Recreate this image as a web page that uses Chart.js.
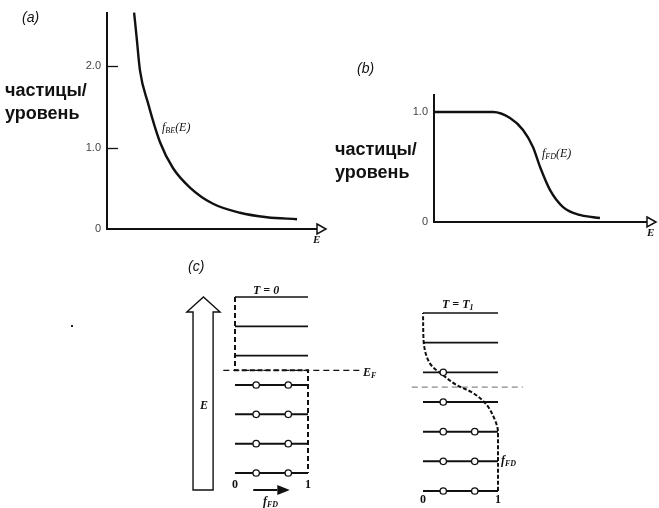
<!DOCTYPE html>
<html>
<head>
<meta charset="utf-8">
<script src="https://cdn.jsdelivr.net/npm/chart.js@4.4.1/dist/chart.umd.min.js"></script>
<style>
body { margin: 0; background: #fff; width: 659px; height: 508px; position: relative; overflow: hidden; font-family: "Liberation Sans", Arial, sans-serif; }
canvas { position: absolute; }
.t { position: absolute; white-space: nowrap; color: #111; }
.ylab { font-weight: bold; font-size: 18px; line-height: 23px; }
.pan { font-style: italic; font-size: 14px; }
.m { font-family: "Liberation Serif", serif; font-style: italic; font-size: 12px; }
.b { font-weight: bold; }
sub { font-size: 8px; vertical-align: -2px; }
</style>
</head>
<body>
<canvas id="ca" width="340" height="250" style="left:0;top:0"></canvas>
<canvas id="cb" width="329" height="190" style="left:330px;top:60px"></canvas>
<canvas id="cc0" width="200" height="253" style="left:170px;top:255px"></canvas>
<canvas id="cc1" width="180" height="253" style="left:380px;top:255px"></canvas>

<div class="t pan" style="left:22px;top:9px">(a)</div>
<div class="t ylab" style="left:5px;top:79px">частицы/<br>уровень</div>
<div class="t m" style="left:162px;top:120px">f<sub>BE</sub>(E)</div>
<div class="t m b" style="left:313px;top:233px;font-size:11px">E</div>

<div class="t pan" style="left:357px;top:60px">(b)</div>
<div class="t ylab" style="left:335px;top:138px">частицы/<br>уровень</div>
<div class="t m" style="left:542px;top:146px">f<sub>FD</sub>(E)</div>
<div class="t m b" style="left:647px;top:226px;font-size:11px">E</div>

<div class="t pan" style="left:188px;top:258px">(c)</div>
<div class="t m b" style="left:253px;top:283px">T = 0</div>
<div class="t m b" style="left:200px;top:398px">E</div>
<div class="t m b" style="left:363px;top:365px">E<sub>F</sub></div>
<div class="t m b" style="left:263px;top:494px">f<sub>FD</sub></div>
<div class="t m b" style="left:442px;top:297px">T = T<sub>1</sub></div>
<div class="t m b" style="left:501px;top:453px">f<sub>FD</sub></div>
<div style="position:absolute;left:71px;top:325px;width:2px;height:2px;background:#222"></div>

<script>
// (a) Bose-Einstein curve
const beE = [1.29, 1.41, 1.57, 1.95, 2.52, 3.14, 3.95, 5.05, 6.33, 7.62, 9.05];
const beF = [2.66, 2.36, 1.95, 1.55, 1.07, 0.75, 0.51, 0.31, 0.20, 0.145, 0.12];
const yTicksA = [0, 1, 2];

// (b) Fermi-Dirac curve
const fdE = [0, 2.77, 3.57, 4.18, 4.65, 4.98, 5.45, 6.06, 6.85, 7.79];
const fdF = [1, 1, 0.945, 0.836, 0.68, 0.5, 0.29, 0.136, 0.064, 0.036];
const yTicksB = [0, 1];

// (c) energy levels, Fermi level at 3.5
const levels = [0, 1, 2, 3, 4, 5, 6];
const fermiLevel = 3.5;
const fTicks = [0, 1];

// T = 0: two electrons on each level below E_F
const t0ElecLevel = [0, 0, 1, 1, 2, 2, 3, 3];
const t0ElecF = [0.29, 0.73, 0.29, 0.73, 0.29, 0.73, 0.29, 0.73];
const stepF = [0, 0, 1, 1];
const stepE = [6, 3.5, 3.5, 0];
const efLineLeft = [-0.16, 1.74];

// T = T1
const t1ElecLevel = [0, 0, 1, 1, 2, 2, 3, 4];
const t1ElecF = [0.27, 0.69, 0.27, 0.69, 0.27, 0.69, 0.27, 0.27];
const fermiF = [1, 1.0, 0.96, 0.85, 0.67, 0.45, 0.27, 0.09, 0.01, 0];
const fermiE = [0, 1.99, 2.39, 2.9, 3.3, 3.57, 3.9, 4.31, 4.98, 6];
const efLineRight = [-0.15, 1.33];

const pts = (xs, ys) => xs.map((x, i) => ({ x: x, y: ys[i] }));
const INK = '#111';

// inner tick marks on the y axis + hollow arrow at the end of the x axis
const axisDeco = {
    id: 'axisDeco',
    afterDraw(chart, args, o) {
        const { ctx, chartArea: a, scales: { y } } = chart;
        ctx.save();
        ctx.strokeStyle = INK;
        ctx.lineWidth = 1.3;
        (o.ticks || []).forEach(v => {
            const py = Math.round(y.getPixelForValue(v)) + 0.5;
            ctx.beginPath();
            ctx.moveTo(a.left, py);
            ctx.lineTo(a.left + o.tickLen, py);
            ctx.stroke();
        });
        const b = a.bottom;
        ctx.lineWidth = 1.5;
        ctx.fillStyle = '#fff';
        ctx.beginPath();
        ctx.moveTo(a.right, b - 5);
        ctx.lineTo(a.right + 9, b);
        ctx.lineTo(a.right, b + 5);
        ctx.closePath();
        ctx.fill();
        ctx.stroke();
        ctx.restore();
    }
};

// hollow energy arrow and the small f arrow for panel (c)
const energyArrow = {
    id: 'energyArrow',
    afterDraw(chart, args, o) {
        if (!o.shaft) return;
        const { ctx, chartArea: a, scales: { x, y } } = chart;
        const X = v => x.getPixelForValue(v), Y = v => y.getPixelForValue(v);
        const [s0, s1] = o.shaft, [h0, h1] = o.head;
        ctx.save();
        ctx.strokeStyle = INK;
        ctx.lineWidth = 1.4;
        ctx.beginPath();
        ctx.moveTo(X(s0), Y(o.base));
        ctx.lineTo(X(s0), Y(o.neck));
        ctx.lineTo(X(h0), Y(o.neck));
        ctx.lineTo(X((h0 + h1) / 2), Y(o.tip));
        ctx.lineTo(X(h1), Y(o.neck));
        ctx.lineTo(X(s1), Y(o.neck));
        ctx.lineTo(X(s1), Y(o.base));
        ctx.closePath();
        ctx.stroke();

        const fa = o.fArrow, py = a.bottom + fa.dy;
        ctx.lineWidth = 2;
        ctx.beginPath();
        ctx.moveTo(X(fa.from), py);
        ctx.lineTo(X(fa.headAt), py);
        ctx.stroke();
        ctx.fillStyle = INK;
        ctx.beginPath();
        ctx.moveTo(X(fa.headAt), py - 5);
        ctx.lineTo(X(fa.to), py);
        ctx.lineTo(X(fa.headAt), py + 5);
        ctx.closePath();
        ctx.fill();
        ctx.restore();
    }
};

function curveChart(id, xs, ys, yMax, yTicks, pad, xH, yW, deco) {
    return new Chart(document.getElementById(id), {
        type: 'scatter',
        data: {
            datasets: [{
                data: pts(xs, ys),
                showLine: true,
                borderColor: INK,
                borderWidth: 2.4,
                pointRadius: 0,
                cubicInterpolationMode: 'monotone',
                clip: false
            }]
        },
        options: {
            responsive: false,
            animation: false,
            devicePixelRatio: 1,
            layout: { padding: pad },
            plugins: { legend: { display: false }, tooltip: { enabled: false }, axisDeco: deco },
            scales: {
                x: {
                    min: 0, max: 10,
                    grid: { display: false, drawTicks: false },
                    border: { color: INK, width: 2 },
                    ticks: { display: false },
                    afterFit: s => { s.height = xH; }
                },
                y: {
                    min: 0, max: yMax,
                    grid: { display: false, drawTicks: false },
                    border: { color: INK, width: 2 },
                    ticks: {
                        padding: 6, color: '#444',
                        font: { size: 11 },
                        callback: v => v === 0 ? '0' : v.toFixed(1)
                    },
                    afterBuildTicks: s => { s.ticks = yTicks.map(v => ({ value: v })); },
                    afterFit: s => { s.width = yW; }
                }
            }
        },
        plugins: [axisDeco]
    });
}

curveChart('ca', beE, beF, 2.66, yTicksA, { top: 8, right: 23, left: 0, bottom: 0 }, 21, 107, { ticks: [1, 2], tickLen: 11 });
curveChart('cb', fdE, fdF, 1.155, yTicksB, { top: 35, right: 12, left: 0, bottom: 0 }, 28, 104, { ticks: [], tickLen: 0 });

function levelChart(id, elecF, elecLevel, occF, occE, occDash, occTension, efLine, efColor, pad, xH, tickPad, arrow) {
    const datasets = [{
        data: pts(elecF, elecLevel),
        pointRadius: 3.2,
        pointBackgroundColor: '#fff',
        pointBorderColor: INK,
        pointBorderWidth: 1.3,
        order: 0,
        clip: false
    }, {
        data: pts(occF, occE),
        showLine: true,
        borderColor: INK,
        borderWidth: 2,
        borderDash: occDash,
        pointRadius: 0,
        tension: occTension,
        order: 1,
        clip: false
    }, {
        data: pts(efLine, [fermiLevel, fermiLevel]),
        showLine: true,
        borderColor: efColor,
        borderWidth: 1.3,
        borderDash: [6, 4],
        pointRadius: 0,
        order: 2,
        clip: false
    }];
    levels.forEach(L => datasets.push({
        data: pts([0, 1], [L, L]),
        showLine: true,
        borderColor: INK,
        borderWidth: L > fermiLevel ? 1.6 : 2,
        pointRadius: 0,
        order: 3,
        clip: false
    }));
    return new Chart(document.getElementById(id), {
        type: 'scatter',
        data: { datasets: datasets },
        options: {
            responsive: false,
            animation: false,
            devicePixelRatio: 1,
            layout: { padding: pad },
            plugins: { legend: { display: false }, tooltip: { enabled: false }, energyArrow: arrow },
            scales: {
                x: {
                    min: 0, max: 1,
                    grid: { display: false, drawTicks: false },
                    border: { display: false },
                    ticks: {
                        padding: tickPad, color: INK,
                        font: { family: '"Liberation Serif", serif', weight: 'bold', size: 12 }
                    },
                    afterBuildTicks: s => { s.ticks = fTicks.map(v => ({ value: v })); },
                    afterFit: s => { s.height = xH; }
                },
                y: { display: false, min: 0, max: 6 }
            }
        },
        plugins: [energyArrow]
    });
}

levelChart('cc0', t0ElecF, t0ElecLevel, stepF, stepE, [5, 3], 0, efLineLeft, INK,
    { top: 42, left: 65, right: 62, bottom: 0 }, 35, 5,
    { shaft: [-0.575, -0.30], head: [-0.66, -0.205], tip: 6, neck: 5.49, base: -0.58,
      fArrow: { from: 0.25, headAt: 0.58, to: 0.75, dy: 17 } });

levelChart('cc1', t1ElecF, t1ElecLevel, fermiF, fermiE, [4, 2], 0.35, efLineRight, '#888',
    { top: 58, left: 43, right: 62, bottom: 0 }, 17, 2, {});
</script>
</body>
</html>
